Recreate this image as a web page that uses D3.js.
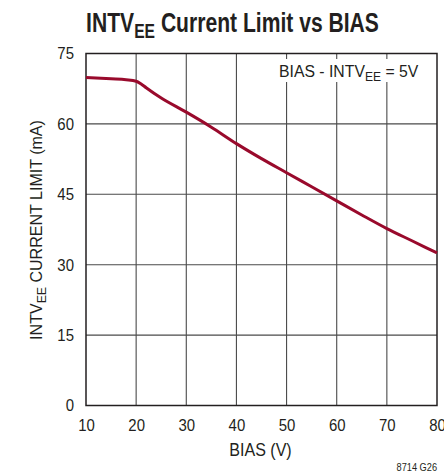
<!DOCTYPE html>
<html>
<head>
<meta charset="utf-8">
<script src="https://cdn.jsdelivr.net/npm/d3@7"></script>
<style>
  body { margin: 0; background: #fff; }
  text { font-family: "Liberation Sans", Arial, sans-serif; fill: #231f20; }
</style>
</head>
<body>
<div id="chart"></div>
<script>
// values
var biasV = [10, 15, 18, 20, 21, 22, 25, 30, 35, 40, 45, 50, 55, 60, 65, 70, 75, 80];
var currentMA = [69.9, 69.6, 69.4, 69.1, 68.5, 67.7, 65.5, 62.5, 59.3, 55.8, 52.6, 49.6, 46.6, 43.6, 40.6, 37.7, 35.1, 32.5];
var xTicks = [10, 20, 30, 40, 50, 60, 70, 80];
var yTicks = [0, 15, 30, 45, 60, 75];

var width = 444;
var height = 472;
var margin = { top: 53.5, left: 86, bottom: 66.5, right: 7 };
var w = width - margin.left - margin.right;
var h = height - margin.top - margin.bottom;
var narrow = 0.88; // no condensed font here, so squeeze glyphs

var svg = d3.select('#chart').append('svg')
    .attr('width', width)
    .attr('height', height);

var x = d3.scaleLinear().domain([10, 80]).range([0, w]);
var y = d3.scaleLinear().domain([0, 75]).range([h, 0]);

// squeeze a text (drawn at 0,0) to a given width, then place it
function squeeze(text, tx, ty, target, rot) {
    var k = target / text.node().getBBox().width;
    text.attr('transform', 'translate(' + tx + ',' + ty + ')' +
        (rot ? ' rotate(' + rot + ')' : '') + ' scale(' + k + ',1)');
}

var g = svg.append('g')
    .attr('transform', 'translate(' + margin.left + ',' + margin.top + ')');

// grid
g.selectAll('.vgrid').data(xTicks.slice(1, -1)).enter()
    .append('line')
    .attr('x1', function (d) { return x(d); })
    .attr('x2', function (d) { return x(d); })
    .attr('y1', 0).attr('y2', h)
    .attr('stroke', '#4a4a4a').attr('stroke-width', 1.1);

g.selectAll('.hgrid').data(yTicks.slice(1, -1)).enter()
    .append('line')
    .attr('y1', function (d) { return y(d); })
    .attr('y2', function (d) { return y(d); })
    .attr('x1', 0).attr('x2', w)
    .attr('stroke', '#4a4a4a').attr('stroke-width', 1.1);

// white box behind the condition label
g.append('rect')
    .attr('x', x(48.8)).attr('y', 5.5)
    .attr('width', x(77.8) - x(48.8)).attr('height', 23)
    .attr('fill', '#fff');

var cond = g.append('text')
    .attr('text-anchor', 'end')
    .style('font-size', '17px');
cond.append('tspan').text('BIAS - INTV');
cond.append('tspan').attr('dy', 4).style('font-size', '13px').text('EE');
cond.append('tspan').attr('dy', -4).text(' = 5V');
squeeze(cond, 418.3 - margin.left, 77.3 - margin.top, 140);

// frame
g.append('rect')
    .attr('x', 0).attr('y', 0).attr('width', w).attr('height', h)
    .attr('fill', 'none').attr('stroke', '#231f20').attr('stroke-width', 1.5);

// axes (labels only)
var xAxis = d3.axisBottom(x).tickValues(xTicks).tickSize(0).tickPadding(13);
var yAxis = d3.axisLeft(y).tickValues(yTicks).tickSize(0).tickPadding(12);

var gx = g.append('g').attr('transform', 'translate(0,' + h + ')').call(xAxis);
var gy = g.append('g').call(yAxis);
[gx, gy].forEach(function (a) {
    a.select('.domain').remove();
    a.selectAll('text')
        .style('font-size', '17px')
        .style('font-family', '"Liberation Sans", Arial, sans-serif')
        .attr('fill', '#231f20');
});
gx.selectAll('text').attr('transform', 'scale(' + narrow + ',1)');
gy.selectAll('text')
    .attr('x', -12 / narrow)
    .attr('transform', 'scale(' + narrow + ',1)');

// curve
var line = d3.line()
    .x(function (d) { return x(d[0]); })
    .y(function (d) { return y(d[1]); })
    .curve(d3.curveMonotoneX);

g.append('path')
    .datum(d3.zip(biasV, currentMA))
    .attr('d', line)
    .attr('fill', 'none')
    .attr('stroke', '#990a2c')
    .attr('stroke-width', 3)
    .attr('stroke-linejoin', 'round');

// titles
var title = svg.append('text')
    .attr('text-anchor', 'middle')
    .style('font-size', '27px').style('font-weight', 'bold');
title.append('tspan').text('INTV');
title.append('tspan').attr('dy', 6).style('font-size', '20px').text('EE');
title.append('tspan').attr('dy', -6).text(' Current Limit vs BIAS');
squeeze(title, 232.5, 31.5, 293);

var xtitle = svg.append('text')
    .attr('text-anchor', 'middle')
    .style('font-size', '18px')
    .text('BIAS (V)');
squeeze(xtitle, 260.5, 456, 62.5);

var ytitle = svg.append('text')
    .attr('text-anchor', 'middle')
    .style('font-size', '17px');
ytitle.append('tspan').text('INTV');
ytitle.append('tspan').attr('dy', 4).style('font-size', '13px').text('EE');
ytitle.append('tspan').attr('dy', -4).text(' CURRENT LIMIT (mA)');
squeeze(ytitle, 42, 230, 220, -90);

var note = svg.append('text')
    .attr('text-anchor', 'end')
    .style('font-size', '11px')
    .text('8714 G26');
squeeze(note, 437, 471, 40.5);
</script>
</body>
</html>
